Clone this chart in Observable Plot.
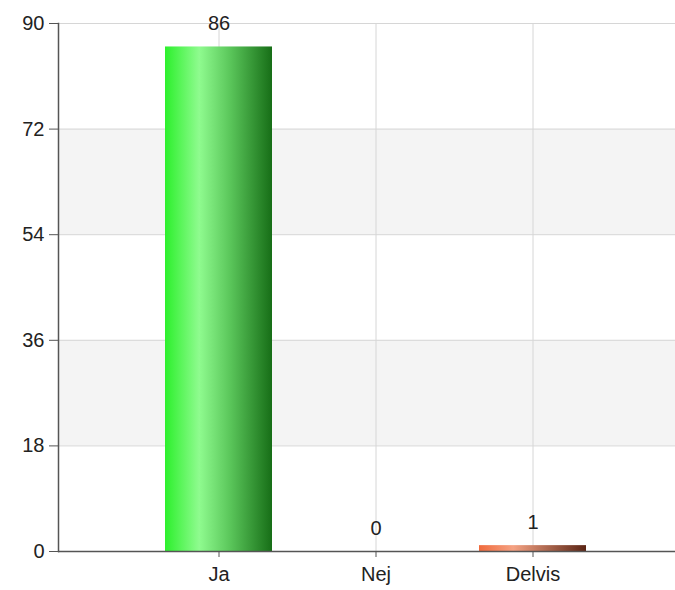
<!DOCTYPE html>
<html><head><meta charset="utf-8">
<script src="https://cdn.jsdelivr.net/npm/d3@7"></script>
<script src="https://cdn.jsdelivr.net/npm/@observablehq/plot@0.6"></script>
<style>body{margin:0;background:#fff;} svg{display:block;}</style>
</head><body><div id="chart"></div>
<script>
const categories = ["Ja", "Nej", "Delvis"];
const values = [86, 0, 1];
const yTicks = [0, 18, 36, 54, 72, 90];
const shadedBands = [[18, 36], [54, 72]];
const gradientStops = {
  Ja: [["0%", "#2cf02c"], ["32%", "#8ffb8f"], ["60%", "#5cc85c"], ["100%", "#176e17"]],
  Nej: [["0%", "#f07040"], ["32%", "#f5a283"], ["100%", "#5a2414"]],
  Delvis: [["0%", "#f06a3c"], ["32%", "#f5a283"], ["100%", "#5a2414"]]
};

const data = categories.map((c, i) => ({category: c, value: values[i]}));
const bands = shadedBands.map(([a, b]) => ({y1: a, y2: b}));
const font = "'Liberation Sans', Arial, sans-serif";
const fs = 20;

const marks = [
  Plot.rect(bands, {y1: "y1", y2: "y2", fill: "#f4f4f4"}),
  Plot.gridY(yTicks, {stroke: "#d6d6d6", strokeOpacity: 1}),
  Plot.gridX({stroke: "#d6d6d6", strokeOpacity: 1}),
  ...categories.map(c => Plot.barY(data.filter(d => d.category === c), {x: "category", y: "value", fill: `url(#grad${c})`})),
  Plot.text(data, {x: "category", y: "value", text: d => String(d.value), dy: -23, fontSize: fs, fill: "#222", lineAnchor: "middle"}),
  Plot.ruleY([0], {stroke: "#555", strokeWidth: 1.5}),
  Plot.frame({anchor: "left", stroke: "#555", strokeWidth: 1.5}),
  Plot.axisY({ticks: yTicks, tickSize: 9, tickPadding: 5, fontSize: fs, label: null, stroke: "#555", fill: "#222"}),
  Plot.axisX({tickSize: 6, tickPadding: 9, fontSize: fs, label: null, stroke: "#555", fill: "#222"})
];

const chart = Plot.plot({
  width: 675,
  height: 590,
  marginLeft: 58,
  marginRight: 0,
  marginTop: 23,
  marginBottom: 39,
  style: {fontFamily: font, fontSize: fs + "px", background: "#fff"},
  x: {type: "band", domain: categories, range: [138.2, 611.8], paddingInner: 0.32, paddingOuter: 0.16},
  y: {domain: [0, 90], ticks: yTicks},
  marks
});

const NS = "http://www.w3.org/2000/svg";
const defs = document.createElementNS(NS, "defs");
for (const c of categories) {
  const g = document.createElementNS(NS, "linearGradient");
  g.setAttribute("id", "grad" + c);
  g.setAttribute("x1", "0"); g.setAttribute("x2", "1");
  g.setAttribute("y1", "0"); g.setAttribute("y2", "0");
  for (const [off, col] of gradientStops[c]) {
    const s = document.createElementNS(NS, "stop");
    s.setAttribute("offset", off);
    s.setAttribute("stop-color", col);
    g.appendChild(s);
  }
  defs.appendChild(g);
}
chart.insertBefore(defs, chart.firstChild);
document.getElementById("chart").appendChild(chart);
</script>
</body></html>
